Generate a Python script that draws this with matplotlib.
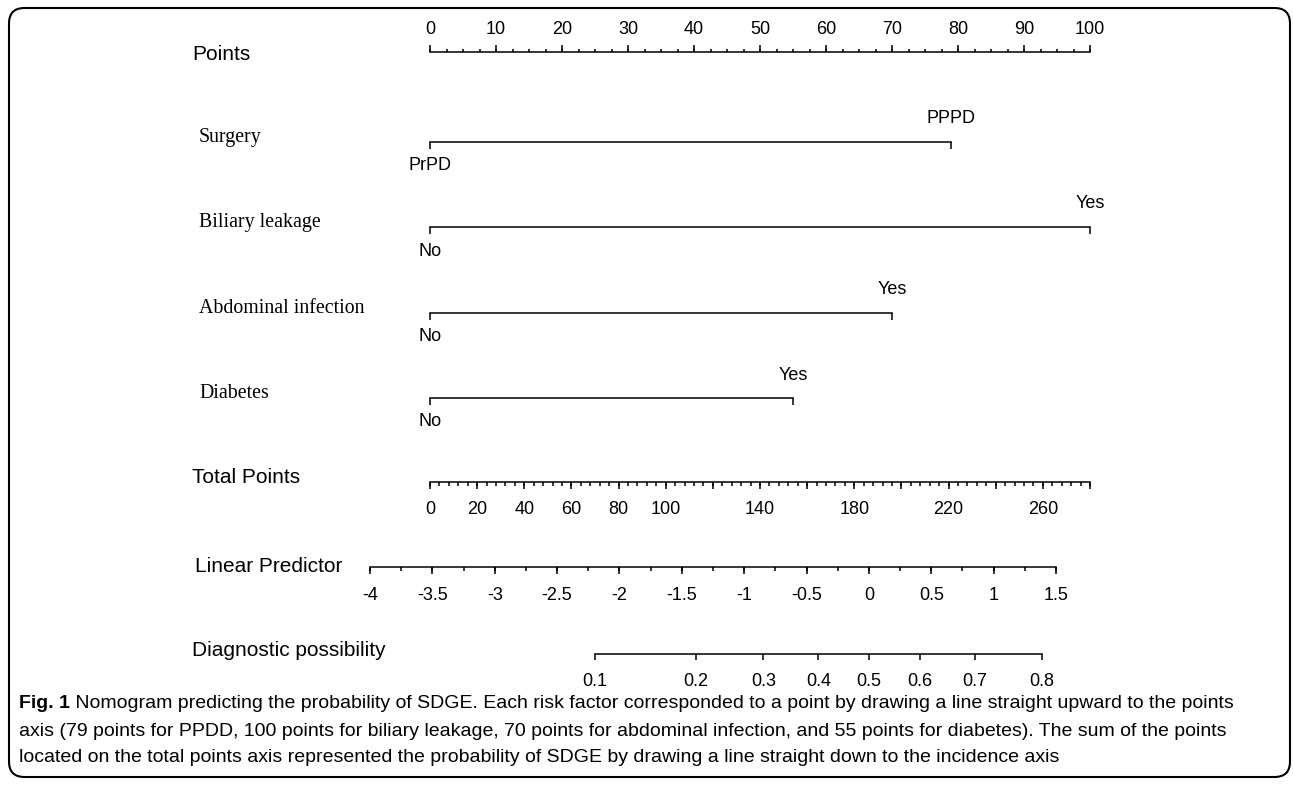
import numpy as np
import matplotlib
matplotlib.use("Agg")
import matplotlib.pyplot as plt
from matplotlib.patches import FancyBboxPatch

# ---- data ----
points_ticks = np.arange(0, 101, 10)
points_minor = np.arange(0, 100.1, 2.5)

factors = ["Surgery", "Biliary leakage", "Abdominal infection", "Diabetes"]
levels = [("PrPD", "PPPD"), ("No", "Yes"), ("No", "Yes"), ("No", "Yes")]
level_points = [(0, 79), (0, 100), (0, 70), (0, 55)]

total_max = 280
total_major = np.arange(0, 281, 20)
total_minor = np.arange(0, 281, 4)
total_labels = [0, 20, 40, 60, 80, 100, 140, 180, 220, 260]

lp_major = np.arange(-4, 1.51, 0.5)
lp_minor = np.arange(-4, 1.51, 0.25)
lp_at_zero_total = -3.519
lp_per_total = 0.018897

prob_ticks = [0.1, 0.2, 0.3, 0.4, 0.5, 0.6, 0.7, 0.8]

caption_bold = "Fig. 1"
caption_lines = [
    " Nomogram predicting the probability of SDGE. Each risk factor corresponded to a point by drawing a line straight upward to the points",
    "axis (79 points for PPDD, 100 points for biliary leakage, 70 points for abdominal infection, and 55 points for diabetes). The sum of the points",
    "located on the total points axis represented the probability of SDGE by drawing a line straight down to the incidence axis",
]

# ---- mappings onto the points scale ----
def total_to_x(tp):
    return np.asarray(tp) * 100.0 / total_max

def lp_to_x(lp):
    return total_to_x((np.asarray(lp) - lp_at_zero_total) / lp_per_total)

def prob_to_x(p):
    p = np.asarray(p)
    return lp_to_x(np.log(p / (1 - p)))

W, H = 1293, 785
fig = plt.figure(figsize=(W / 100, H / 100), dpi=100)
ax = fig.add_axes([0, 0, 1, 1])
x0_px, px_per_pt = 430, 6.6
ax.set_xlim(-x0_px / px_per_pt, (W - x0_px) / px_per_pt)
ax.set_ylim(H, 0)
ax.axis("off")

sans = "Liberation Sans"
serif = "Liberation Serif"
lw = 1.1
tick_fs = 13
lbl_x = 192 / W
row_y0, row_dy = 55, 85.5
rows = row_y0 + row_dy * np.arange(8)
tx = ax.get_yaxis_transform()  # x in axes fraction, y in data

def row_label(y, text, family=sans, size=15, dx=0):
    ax.text(lbl_x + dx / W, y, text, transform=tx, ha="left", va="center",
            family=family, fontsize=size)

# Points axis
y = rows[0] - 3
ax.plot([0, 100], [y, y], color="black", lw=lw)
ax.vlines(points_minor, y - 3.5, y, color="black", lw=lw)
ax.vlines(points_ticks, y - 7, y, color="black", lw=lw)
for t in points_ticks:
    ax.text(t, y - 23, str(t), ha="center", va="center", family=sans, fontsize=tick_fs)
row_label(rows[0], "Points")

# factor rows
for i, (name, lv, pts) in enumerate(zip(factors, levels, level_points)):
    y = rows[i + 1] + 1
    ax.plot(pts, [y, y], color="black", lw=lw)
    ax.vlines(pts, y, y + 7, color="black", lw=lw)
    ax.text(pts[0], y + 24, lv[0], ha="center", va="center", family=sans, fontsize=tick_fs)
    ax.text(pts[1], y - 23, lv[1], ha="center", va="center", family=sans, fontsize=tick_fs)
    row_label(rows[i + 1] - 3, name, family=serif, size=14.3, dx=7)

# Total points
y = rows[5] - 1
xs = total_to_x([0, total_max])
ax.plot(xs, [y, y], color="black", lw=lw)
ax.vlines(total_to_x(total_minor), y, y + 4, color="black", lw=lw)
ax.vlines(total_to_x(total_major), y, y + 7, color="black", lw=lw)
for t in total_labels:
    ax.text(total_to_x(t), y + 28, str(t), ha="center", va="center", family=sans, fontsize=tick_fs)
row_label(rows[5] - 5, "Total Points")

# Linear predictor
y = rows[6] - 1
ax.plot(lp_to_x([lp_major[0], lp_major[-1]]), [y, y], color="black", lw=lw)
ax.vlines(lp_to_x(lp_minor), y, y + 4, color="black", lw=lw)
ax.vlines(lp_to_x(lp_major), y, y + 7, color="black", lw=lw)
for t in lp_major:
    ax.text(lp_to_x(t), y + 29, f"{t:g}", ha="center", va="center", family=sans, fontsize=tick_fs)
row_label(rows[6] - 2, "Linear Predictor", dx=3)

# Diagnostic possibility
y = rows[7]
ax.plot(prob_to_x([prob_ticks[0], prob_ticks[-1]]), [y, y], color="black", lw=lw)
ax.vlines(prob_to_x(prob_ticks), y, y + 6, color="black", lw=lw)
for t in prob_ticks:
    ax.text(prob_to_x(t), y + 28, f"{t:g}", ha="center", va="center", family=sans, fontsize=tick_fs)
row_label(rows[7] - 3, "Diagnostic possibility")

# frame
frame = FancyBboxPatch((9 / W, 8 / H), 1281 / W, 769 / H,
                       boxstyle="round,pad=0,rounding_size=0.012",
                       transform=fig.transFigure, fill=False, lw=1.5,
                       edgecolor="black", mutation_aspect=W / H)
fig.patches.append(frame)

# caption
cap_size = 14
cap_x = 19 / W
cap_y = [703, 731, 758]
renderer = fig.canvas.get_renderer()
tb = fig.text(cap_x, 1 - cap_y[0] / H, caption_bold, weight="bold", family=sans,
              fontsize=cap_size, va="center", ha="left")
bb = tb.get_window_extent(renderer)
fig.text(bb.x1 / W, 1 - cap_y[0] / H, caption_lines[0], family=sans,
         fontsize=cap_size, va="center", ha="left")
for line, yy in zip(caption_lines[1:], cap_y[1:]):
    fig.text(cap_x, 1 - yy / H, line, family=sans, fontsize=cap_size,
             va="center", ha="left")

fig.savefig("out.png", dpi=100)
